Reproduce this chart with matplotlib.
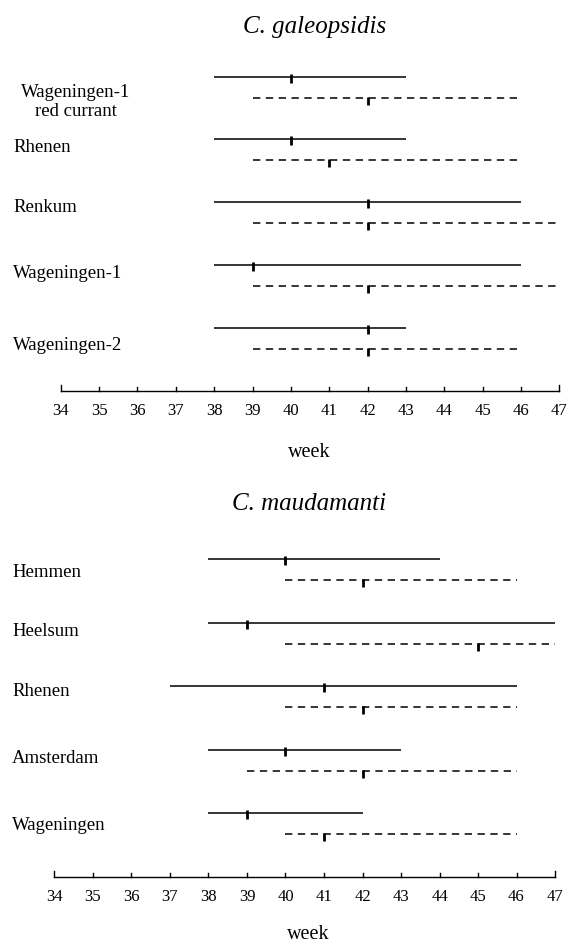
import matplotlib
matplotlib.use("Agg")
import matplotlib.pyplot as plt

# ---------------- data ----------------
weeks = list(range(34, 48))
week_labels = [str(w) for w in weeks]

top_title = "C. galeopsidis"
top_sites = ["Wageningen-1\nred currant", "Rhenen", "Renkum", "Wageningen-1", "Wageningen-2"]
top_solid_start = [38, 38, 38, 38, 38]
top_solid_end = [43, 43, 46, 46, 43]
top_solid_peak = [40, 40, 42, 39, 42]
top_dash_start = [39, 39, 39, 39, 39]
top_dash_end = [46, 46, 47, 47, 46]
top_dash_peak = [42, 41, 42, 42, 42]

bot_title = "C. maudamanti"
bot_sites = ["Hemmen", "Heelsum", "Rhenen", "Amsterdam", "Wageningen"]
bot_solid_start = [38, 38, 37, 38, 38]
bot_solid_end = [44, 47, 46, 43, 42]
bot_solid_peak = [40, 39, 41, 40, 39]
bot_dash_start = [40, 40, 40, 39, 40]
bot_dash_end = [46, 47, 46, 46, 46]
bot_dash_peak = [42, 45, 42, 42, 41]

xlabel = "week"

# ---------------- layout ----------------
W, H = 568, 947
fig = plt.figure(figsize=(W / 100, H / 100), dpi=100)
fig.patch.set_facecolor("white")

SERIF = ["Liberation Serif", "DejaVu Serif"]
LABEL_FS = 13.5
TICK_FS = 12
TITLE_FS = 18
XLAB_FS = 14.5


def px(x, y):
    return x / W, 1 - y / H


def panel(px0, pxw, s0, s1, sp, d0, d1, dp, row_y, axis_y):
    # px0: pixel x for week 34, pxw: pixels per week
    ax = fig.add_axes([0, 0, 1, 1])
    ax.set_axis_off()
    ax.set_xlim(34 - px0 / pxw, 34 + (W - px0) / pxw)
    ax.set_ylim(H, 0)
    ax.patch.set_alpha(0)

    for i in range(len(s0)):
        ys = row_y[i]
        yd = ys + 21
        ax.plot([s0[i], s1[i]], [ys, ys], color="black", lw=1.1,
                solid_capstyle="butt")
        ax.plot([sp[i], sp[i]], [ys - 3, ys + 6], color="black", lw=2.0,
                solid_capstyle="butt")
        ax.plot([d0[i], d1[i]], [yd, yd], color="black", lw=1.1,
                linestyle=(0, (4.8, 3.6)), dash_capstyle="butt")
        ax.plot([dp[i], dp[i]], [yd - 1.5, yd + 7], color="black", lw=2.0,
                solid_capstyle="butt")

    # axis line with upward ticks
    ax.plot([weeks[0], weeks[-1]], [axis_y, axis_y], color="black", lw=1.0)
    for w, lab in zip(weeks, week_labels):
        L = 6 if w in (weeks[0], weeks[-1]) else 4
        ax.plot([w, w], [axis_y, axis_y - L], color="black", lw=1.0)
        ax.text(w, axis_y + 20, lab, ha="center", va="center",
                family=SERIF, fontsize=TICK_FS)
    return ax


top_rows = [77, 139, 202, 265, 328]
bot_rows = [559, 623, 686, 750, 813]
top_label_y = [102, 148, 207, 273, 345]
bot_label_y = [572, 632, 691, 758, 825]

panel(60.7, 38.36, top_solid_start, top_solid_end, top_solid_peak,
      top_dash_start, top_dash_end, top_dash_peak, top_rows, 391)
panel(54.5, 38.5, bot_solid_start, bot_solid_end, bot_solid_peak,
      bot_dash_start, bot_dash_end, bot_dash_peak, bot_rows, 877)

# site labels
for i, name in enumerate(top_sites):
    if "\n" in name:
        fig.text(*px(76, top_label_y[i]), name, ha="center", va="center",
                 family=SERIF, fontsize=LABEL_FS, multialignment="center",
                 linespacing=1.12)
    else:
        fig.text(*px(13, top_label_y[i]), name, ha="left", va="center",
                 family=SERIF, fontsize=LABEL_FS)
for i, name in enumerate(bot_sites):
    fig.text(*px(12, bot_label_y[i]), name, ha="left", va="center",
             family=SERIF, fontsize=LABEL_FS)

# titles
fig.text(*px(315, 27), top_title, ha="center", va="center", family=SERIF,
         style="italic", fontsize=TITLE_FS)
fig.text(*px(309, 504), bot_title, ha="center", va="center", family=SERIF,
         style="italic", fontsize=TITLE_FS)

# x labels
fig.text(*px(309, 452), xlabel, ha="center", va="center", family=SERIF,
         fontsize=XLAB_FS)
fig.text(*px(308, 934), xlabel, ha="center", va="center", family=SERIF,
         fontsize=XLAB_FS)

fig.savefig("out.png", dpi=100, facecolor="white")
